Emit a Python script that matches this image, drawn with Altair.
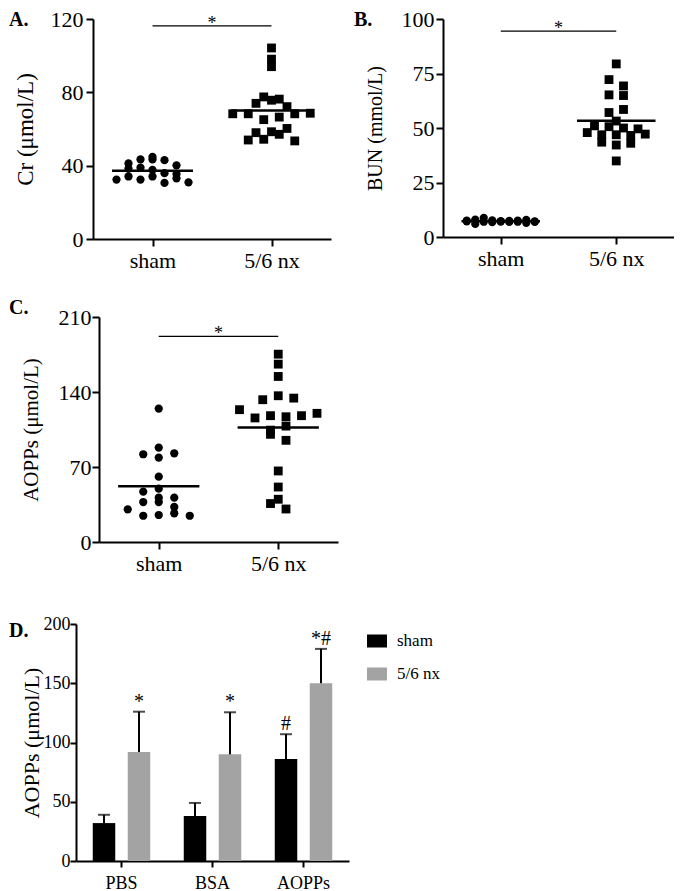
import altair as alt
import pandas as pd

FONT = "Liberation Serif"

# ---------------- data ----------------
groups = ["sham", "5/6 nx"]

cr_sham = [41.2, 43.4, 43.4, 44.8, 43.0, 38.4, 38.9, 40.2, 37.7, 35.9,
           32.4, 34.1, 32.4, 34.1, 35.4, 30.6, 33.1, 30.9]
cr_nx = [104.2, 98.1, 94.0, 74.0, 75.7, 72.2, 77.5, 76.3, 68.3, 68.3, 65.1,
         66.5, 68.3, 68.6, 54.0, 58.0, 58.5, 54.4, 57.1, 60.3, 53.5]

bun_sham = [7.5, 8.0, 7.2, 8.8, 6.0, 7.6, 7.0, 6.8, 7.3, 7.1, 6.9, 7.4,
            7.0, 7.5, 7.8, 6.5, 7.2, 6.9]
bun_nx = [79.4, 72.2, 69.3, 65.2, 64.9, 57.1, 58.5, 53.2, 51.0, 47.9, 50.6,
          46.9, 43.5, 46.9, 42.2, 50.0, 46.6, 43.0, 47.2, 49.6, 34.9]

aopp_sham = [124.5, 88.1, 81.9, 78.8, 82.8, 61.0, 49.8, 47.0, 37.3, 37.3,
             41.4, 41.4, 30.5, 32.7, 24.5, 25.2, 26.8, 24.5]
aopp_nx = [175.3, 166.0, 154.5, 132.8, 136.5, 134.3, 123.5, 115.8, 117.9,
           116.9, 117.9, 120.1, 104.4, 108.2, 100.5, 94.9, 66.3, 51.3, 39.9,
           35.9, 30.8]

d_cats = ["PBS", "BSA", "AOPPs"]
d_sham_mean = [32, 38, 86]
d_sham_sd = [7, 11, 21]
d_nx_mean = [92, 90, 150]
d_nx_sd = [34, 35.5, 29]
d_sham_mark = ["", "", "#"]
d_nx_mark = ["*", "*", "*#"]


def swarm_offsets(values, d, step_px, ppu, max_row):
    """GraphPad-like row swarm: near-equal values are spread side by side."""
    order = sorted(range(len(values)), key=lambda i: (values[i], i))
    rows, cur = [], []
    for i in order:
        if cur and (values[i] - values[cur[0]] >= d or len(cur) >= max_row):
            rows.append(cur)
            cur = []
        cur.append(i)
    if cur:
        rows.append(cur)
    off = [0.0] * len(values)
    for r in rows:
        r = sorted(r)
        n = len(r)
        for k, i in enumerate(r):
            off[i] = (k - (n - 1) / 2) * step_px / ppu
    return off


def letter_mark(text, dx, dy):
    return alt.Chart(pd.DataFrame({"t": [text]})).mark_text(
        font=FONT, fontSize=20, fontWeight="bold", color="black",
        align="left", baseline="middle").encode(
        x=alt.value(dx), y=alt.value(dy), text="t:N")


def spacer():
    # invisible, zero-width cell so that each row is laid out from its left edge
    return alt.Chart(pd.DataFrame({"v": [0]})).mark_rule(opacity=0).encode(
        x=alt.value(0), y=alt.value(0)).properties(width=1, height=1)


def scatter_panel(letter, sham, nx, ymax, yticks, ytitle, width, height,
                  d, steps, max_rows, sig_frac, label_pad, title_pad,
                  title_size, letter_dx, letter_dy):
    ppu = width / 2.0
    off_s = swarm_offsets(sham, d, steps[0], ppu, max_rows[0])
    off_n = swarm_offsets(nx, d, steps[1], ppu, max_rows[1])
    df = pd.DataFrame({
        "g": [0] * len(sham) + [1] * len(nx),
        "val": sham + nx,
        "x": [0 + o for o in off_s] + [1 + o for o in off_n],
    })
    xenc = alt.X("x:Q", scale=alt.Scale(domain=[-0.5, 1.5], nice=False, zero=False),
                 axis=alt.Axis(values=[0, 1],
                               labelExpr=f"datum.value == 0 ? '{groups[0]}' : '{groups[1]}'",
                               title=None, grid=False, tickSize=7, labelPadding=4,
                               labelFontSize=22, labelFont=FONT, labelFlush=False))
    yenc = alt.Y("val:Q", scale=alt.Scale(domain=[0, ymax], nice=False, zero=True),
                 axis=alt.Axis(values=yticks, title=ytitle, grid=False, tickSize=7,
                               labelPadding=label_pad, titlePadding=title_pad,
                               labelFontSize=22, labelFont=FONT,
                               titleFontSize=title_size, titleFont=FONT,
                               titleFontWeight="normal"))
    base = alt.Chart(df)
    pts_s = base.transform_filter("datum.g == 0").mark_circle(
        size=68, color="black", opacity=1).encode(x=xenc, y=yenc)
    pts_n = base.transform_filter("datum.g == 1").mark_square(
        size=78, color="black", opacity=1).encode(x="x:Q", y="val:Q")
    mean = base.transform_aggregate(m="mean(val)", groupby=["g"]).transform_calculate(
        x1="datum.g - 0.34", x2="datum.g + 0.34").mark_rule(
        color="black", strokeWidth=2.5).encode(x="x1:Q", x2="x2:Q", y="m:Q")
    sig_df = pd.DataFrame({"x1": [0], "x2": [1], "xm": [0.5],
                           "y": [ymax * sig_frac], "t": ["*"]})
    sig = alt.Chart(sig_df).mark_rule(color="black", strokeWidth=1.2).encode(
        x="x1:Q", x2="x2:Q", y="y:Q")
    star = alt.Chart(sig_df).mark_text(font=FONT, fontSize=18, baseline="alphabetic",
                                       dy=3, color="black").encode(
        x="xm:Q", y="y:Q", text="t:N")
    return alt.layer(pts_s, pts_n, mean, sig, star,
                     letter_mark(letter, letter_dx, letter_dy)).properties(
        width=width, height=height)


A = scatter_panel("A.", cr_sham, cr_nx, 120, [0, 40, 80, 120], "Cr (μmol/L)",
                  238, 220, 4.0, (12, 15.5), (99, 99), 0.969, 3, 13, 23, -84, 1)
B = scatter_panel("B.", bun_sham, bun_nx, 100, [0, 25, 50, 75, 100], "BUN (mmol/L)",
                  231, 218, 3.0, (8.5, 14.5), (9, 99), 0.944, 2, 16, 20, -89, 1)
C = scatter_panel("C.", aopp_sham, aopp_nx, 210, [0, 70, 140, 210], "AOPPs (μmol/L)",
                  239, 225, 8.0, (15.5, 15.5), (99, 99), 0.914, 1, 17, 21, -90, -9)

# ---------------- panel D ----------------
rows = []
for i, c in enumerate(d_cats):
    rows.append({"cat": c, "grp": groups[0], "mean": d_sham_mean[i],
                 "upper": d_sham_mean[i] + d_sham_sd[i], "mark": d_sham_mark[i]})
    rows.append({"cat": c, "grp": groups[1], "mean": d_nx_mean[i],
                 "upper": d_nx_mean[i] + d_nx_sd[i], "mark": d_nx_mark[i]})
df_d = pd.DataFrame(rows)

xscale = alt.Scale(domain=d_cats, paddingInner=0, paddingOuter=0)
xd = alt.X("cat:N", sort=d_cats, scale=xscale,
           axis=alt.Axis(title=None, labelAngle=0, tickSize=6, labelPadding=7,
                         labelFontSize=18, labelFont=FONT))
xd2 = alt.X("cat:N", sort=d_cats, scale=xscale)
xo = alt.XOffset("grp:N", sort=groups,
                 scale=alt.Scale(domain=groups, paddingInner=0.357, paddingOuter=0.479))
yd = alt.Y("mean:Q", scale=alt.Scale(domain=[0, 200], nice=False),
           axis=alt.Axis(values=[0, 50, 100, 150, 200], title="AOPPs (μmol/L)",
                         grid=False, tickSize=6, labelPadding=0, titlePadding=0,
                         labelFontSize=18, labelFont=FONT, titleFontSize=22,
                         titleFont=FONT, titleFontWeight="normal"))
col = alt.Color("grp:N", sort=groups,
                scale=alt.Scale(domain=groups, range=["#000000", "#a3a3a3"]),
                legend=alt.Legend(title=None, orient="none", legendX=359, legendY=612,
                                  symbolType="M-1,-0.65H1V0.65H-1Z", symbolSize=400,
                                  labelFontSize=17, labelFont=FONT, labelColor="black",
                                  rowPadding=15, labelOffset=10, padding=0,
                                  symbolStrokeWidth=0))
bd = alt.Chart(df_d)
bars = bd.mark_bar().encode(x=xd, xOffset=xo, y=yd, color=col)
err = bd.mark_rule(color="black", strokeWidth=2).encode(
    x=xd2, xOffset=xo, y="mean:Q", y2="upper:Q")
cap = bd.mark_tick(color="black", thickness=2, size=12, orient="horizontal").encode(
    x=xd2, xOffset=xo, y="upper:Q")
txt = bd.mark_text(font=FONT, fontSize=20, baseline="alphabetic", dy=-4,
                   color="black").encode(x=xd2, xOffset=xo, y="upper:Q",
                                         text="mark:N")
D = alt.layer(bars, err, cap, txt, letter_mark("D.", -67, 6.5)).properties(
    width=273, height=237)

row1 = alt.hconcat(spacer(), alt.hconcat(A, B, spacing=23), spacing=0)
row2 = alt.hconcat(spacer(), C, spacing=0)
row3 = alt.hconcat(spacer(), D, spacing=0)
top = alt.vconcat(row1, row2, spacing=27)
chart = alt.vconcat(top, row3, spacing=41).properties(
    padding={"left": 0, "top": 0, "right": 0, "bottom": 0}
).configure(font=FONT).configure_view(stroke=None).configure_axis(
    domainColor="black", domainWidth=2, tickColor="black", tickWidth=2,
    labelColor="black", titleColor="black", labelFont=FONT, titleFont=FONT,
    titleFontWeight="normal", grid=False
)

chart.save("out.html", embed_options={"renderer": "svg", "actions": False})
